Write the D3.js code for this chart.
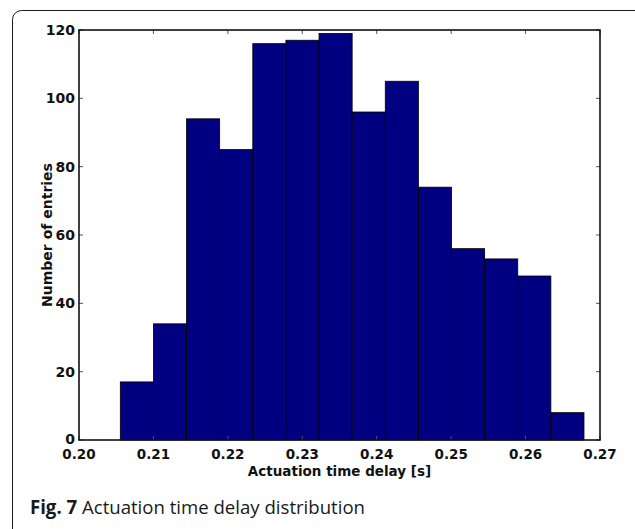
<!DOCTYPE html>
<html>
<head>
<meta charset="utf-8">
<script src="https://cdn.jsdelivr.net/npm/d3@7"></script>
<style>
  body { margin: 0; background: #fff; }
  svg { display: block; }
</style>
</head>
<body>
<div id="chart"></div>
<script>
// histogram bins (left edges in seconds) and counts
const binStart = 0.20555;
const binWidth = 0.00445;
const counts = [17, 34, 94, 85, 116, 117, 119, 96, 105, 74, 56, 53, 48, 8];
const xTicks = [0.20, 0.21, 0.22, 0.23, 0.24, 0.25, 0.26, 0.27];
const yTicks = [0, 20, 40, 60, 80, 100, 120];

const W = 635, H = 529;
const margin = { top: 30, right: 35, bottom: 89, left: 79 };
const width = W - margin.left - margin.right;
const height = H - margin.top - margin.bottom;

const bins = counts.map((c, i) => ({ x0: binStart + i * binWidth, x1: binStart + (i + 1) * binWidth, n: c }));

const svg = d3.select("#chart").append("svg")
    .attr("width", W)
    .attr("height", H);

// rounded figure border
svg.append("rect")
    .attr("x", 12.5).attr("y", 10.5)
    .attr("width", 640).attr("height", 600)
    .attr("rx", 9)
    .attr("fill", "none")
    .attr("stroke", "#1a1a1a")
    .attr("stroke-width", 1);

const g = svg.append("g")
    .attr("transform", "translate(" + margin.left + "," + margin.top + ")");

const x = d3.scaleLinear().domain([0.20, 0.27]).range([0, width]);
const y = d3.scaleLinear().domain([0, 120]).range([height, 0]);

// bars
g.selectAll(".bar")
    .data(bins)
    .enter().append("rect")
    .attr("class", "bar")
    .attr("x", d => x(d.x0))
    .attr("y", d => y(d.n))
    .attr("width", d => x(d.x1) - x(d.x0))
    .attr("height", d => y(0) - y(d.n))
    .attr("fill", "#000080")
    .attr("stroke", "#000")
    .attr("stroke-width", 0.8);

// inward ticks on all four sides, matplotlib style
const tickLen = 4;
const tickColor = "#555";
g.selectAll(".xtb").data(xTicks).enter().append("line")
    .attr("x1", d => x(d)).attr("x2", d => x(d))
    .attr("y1", height).attr("y2", height - tickLen)
    .attr("stroke", tickColor);
g.selectAll(".xtt").data(xTicks).enter().append("line")
    .attr("x1", d => x(d)).attr("x2", d => x(d))
    .attr("y1", 0).attr("y2", tickLen)
    .attr("stroke", tickColor);
g.selectAll(".ytl").data(yTicks).enter().append("line")
    .attr("x1", 0).attr("x2", tickLen)
    .attr("y1", d => y(d)).attr("y2", d => y(d))
    .attr("stroke", tickColor);
g.selectAll(".ytr").data(yTicks).enter().append("line")
    .attr("x1", width).attr("x2", width - tickLen)
    .attr("y1", d => y(d)).attr("y2", d => y(d))
    .attr("stroke", tickColor);

// frame
g.append("rect")
    .attr("width", width).attr("height", height)
    .attr("fill", "none")
    .attr("stroke", "#111")
    .attr("stroke-width", 1.6);

const labelFont = "'DejaVu Sans', sans-serif";

g.selectAll(".xl").data(xTicks).enter().append("text")
    .attr("x", d => x(d))
    .attr("y", height + 19)
    .attr("text-anchor", "middle")
    .attr("font-family", labelFont)
    .attr("font-weight", "bold")
    .attr("font-size", 13.5)
    .attr("fill", "#111")
    .text(d => d3.format(".2f")(d));

g.selectAll(".yl").data(yTicks).enter().append("text")
    .attr("x", -4)
    .attr("y", d => y(d))
    .attr("dy", d => d === 0 ? "0.25em" : "0.36em")
    .attr("text-anchor", "end")
    .attr("font-family", labelFont)
    .attr("font-weight", "bold")
    .attr("font-size", 14)
    .attr("fill", "#111")
    .text(d => d);

// axis titles
g.append("text")
    .attr("x", width / 2)
    .attr("y", height + 36)
    .attr("text-anchor", "middle")
    .attr("font-family", labelFont)
    .attr("font-weight", "bold")
    .attr("font-size", 13.5)
    .attr("fill", "#111")
    .text("Actuation time delay [s]");

g.append("text")
    .attr("transform", "translate(" + (-27) + "," + (height / 2) + ") rotate(-90)")
    .attr("text-anchor", "middle")
    .attr("font-family", labelFont)
    .attr("font-weight", "bold")
    .attr("font-size", 14)
    .attr("fill", "#111")
    .text("Number of entries");

// caption
const cap = svg.append("text")
    .attr("x", 30)
    .attr("y", 514)
    .attr("font-family", "'Open Sans', 'Noto Sans', sans-serif")
    .attr("font-size", 19)
    .attr("fill", "#1a1a1a");
cap.append("tspan").attr("font-weight", "bold").text("Fig. 7");
cap.append("tspan").text(" Actuation time delay distribution");
cap.attr("textLength", 335).attr("lengthAdjust", "spacingAndGlyphs");
</script>
</body>
</html>
